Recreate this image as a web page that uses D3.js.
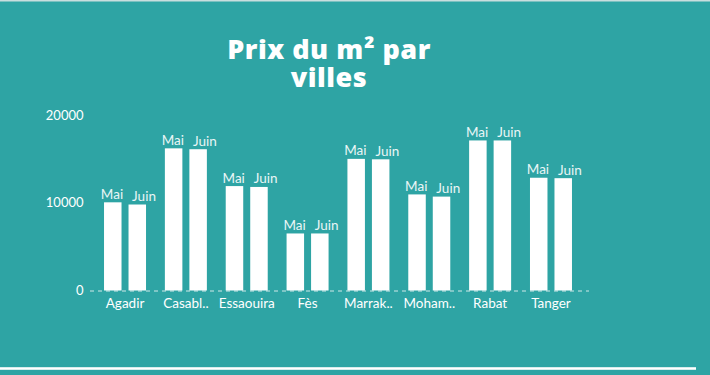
<!DOCTYPE html>
<html>
<head>
<meta charset="utf-8">
<script src="https://cdn.jsdelivr.net/npm/d3@7"></script>
<style>
  body { margin: 0; background: #2ea4a4; }
  svg { display: block; }
</style>
</head>
<body>
<svg id="chart" width="710" height="375"></svg>
<script>
const villes = ['Agadir', 'Casablanca', 'Essaouira', 'Fès', 'Marrakech', 'Mohammedia', 'Rabat', 'Tanger'];
const villesCourt = ['Agadir', 'Casabl..', 'Essaouira', 'Fès', 'Marrak..', 'Moham..', 'Rabat', 'Tanger'];
const mois = ['Mai', 'Juin'];
const prixMai = [10050, 16200, 11900, 6500, 15000, 10950, 17100, 12850];
const prixJuin = [9800, 16100, 11800, 6500, 14950, 10700, 17100, 12800];
const yTicks = [0, 10000, 20000];
const titre = ['Prix du m² par', 'villes'];

const svg = d3.select('#chart');
const width = +svg.attr('width');
const height = +svg.attr('height');

svg.append('rect')
    .attr('width', width)
    .attr('height', height)
    .attr('fill', '#2ea4a4');

// fine lines top and bottom
svg.append('rect').attr('x', 0).attr('y', 0).attr('width', width).attr('height', 1.5).attr('fill', '#c9dede');
svg.append('rect').attr('x', 0).attr('y', 367).attr('width', 696).attr('height', 3).attr('fill', '#d6ecec');
svg.append('rect').attr('x', 0).attr('y', 368).attr('width', 696).attr('height', 1).attr('fill', '#ffffff');

svg.selectAll('text.titre')
    .data(titre)
    .enter().append('text')
    .attr('class', 'titre')
    .attr('x', 329)
    .attr('y', (d, i) => 59.3 + i * 27.4)
    .attr('text-anchor', 'middle')
    .attr('fill', '#fff')
    .attr('font-family', 'Open Sans, sans-serif')
    .attr('font-weight', 800)
    .attr('font-size', 27)
    .attr('letter-spacing', 0.5)
    .text(d => d);

const data = villes.map((v, i) => ({ ville: v, court: villesCourt[i], Mai: prixMai[i], Juin: prixJuin[i] }));

const x0 = d3.scaleBand()
    .domain(villes)
    .range([94.6, 581.4])
    .padding(0);

const x1 = d3.scaleBand()
    .domain(mois)
    .range([x0.bandwidth() / 2 - 21, x0.bandwidth() / 2 + 21])
    .paddingInner(0.2857);

// labels are spread a bit wider than the bars so they don't collide
const xLabel = d3.scalePoint()
    .domain(mois)
    .range([x0.bandwidth() / 2 - 13, x0.bandwidth() / 2 + 19]);

const y = d3.scaleLinear()
    .domain([0, 20000])
    .range([290.5, 115]);

// y tick labels
svg.append('g')
    .selectAll('text')
    .data(yTicks)
    .enter().append('text')
    .attr('x', 83.5)
    .attr('y', d => y(d))
    .attr('dy', '0.35em')
    .attr('text-anchor', 'end')
    .attr('fill', '#fff')
    .attr('font-family', 'Lato, sans-serif')
    .attr('font-size', 13)
    .text(d => d);

// dashed baseline
svg.append('line')
    .attr('x1', 90)
    .attr('x2', 589)
    .attr('y1', y(0) + 0.5)
    .attr('y2', y(0) + 0.5)
    .attr('stroke', '#cfe8e8')
    .attr('stroke-width', 1)
    .attr('stroke-dasharray', '4,4');

const groups = svg.append('g')
    .selectAll('g')
    .data(data)
    .enter().append('g')
    .attr('transform', d => `translate(${x0(d.ville)},0)`);

groups.selectAll('rect')
    .data(d => mois.map(m => ({ mois: m, valeur: d[m] })))
    .enter().append('rect')
    .attr('x', d => x1(d.mois))
    .attr('y', d => y(d.valeur))
    .attr('width', x1.bandwidth())
    .attr('height', d => y(0) - y(d.valeur))
    .attr('fill', '#ffffff');

groups.selectAll('text.lab')
    .data(d => mois.map(m => ({ mois: m, valeur: d[m] })))
    .enter().append('text')
    .attr('class', 'lab')
    .attr('x', d => xLabel(d.mois))
    .attr('y', d => y(d.valeur) - 3.5)
    .attr('text-anchor', 'middle')
    .attr('fill', '#eaf6f6')
    .attr('font-family', 'Lato, sans-serif')
    .attr('font-size', 13.5)
    .text(d => d.mois);

// city labels
svg.append('g')
    .selectAll('text')
    .data(data)
    .enter().append('text')
    .attr('x', d => x0(d.ville) + x0.bandwidth() / 2)
    .attr('y', 307.5)
    .attr('text-anchor', 'middle')
    .attr('fill', '#fff')
    .attr('font-family', 'Lato, sans-serif')
    .attr('font-size', 13.5)
    .text(d => d.court);
</script>
</body>
</html>
